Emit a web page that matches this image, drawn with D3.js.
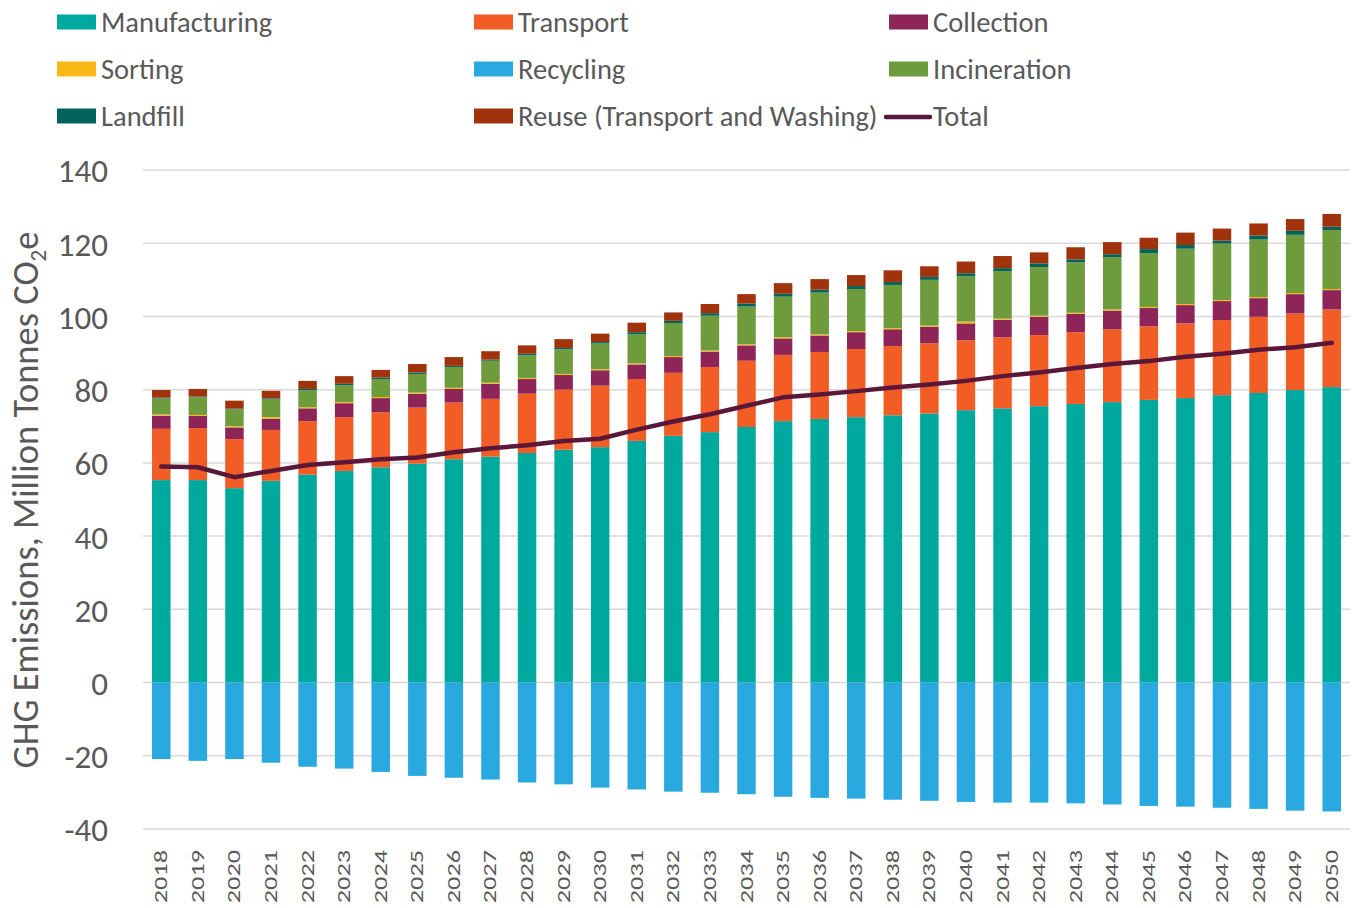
<!DOCTYPE html>
<html>
<head>
<meta charset="utf-8">
<script src="https://cdn.jsdelivr.net/npm/d3@7"></script>
<style>
  html, body { margin: 0; padding: 0; background: #ffffff; }
  svg { display: block; }
  text { font-family: Carlito, Calibri, Lato, "Open Sans", sans-serif; fill: #595959; }
</style>
</head>
<body>
<svg id="chart" width="1357" height="908"></svg>
<script>
// Annual greenhouse-gas emissions by life-cycle stage, million tonnes CO2e
const years = d3.range(2018, 2051).map(String);

const manufacturing = [55.3, 55.3, 53.1, 55.1, 56.8, 57.8, 58.8, 59.8, 61.0, 61.7, 62.7, 63.6, 64.3, 66.0, 67.4, 68.4, 69.8, 71.4, 72.0, 72.5, 73.0, 73.5, 74.4, 74.9, 75.5, 76.1, 76.6, 77.2, 77.7, 78.5, 79.1, 79.9, 80.7];
const transport     = [14.0, 14.2, 13.4, 13.9, 14.6, 14.7, 15.0, 15.3, 15.5, 15.8, 16.2, 16.4, 16.8, 16.9, 17.2, 17.8, 18.1, 18.1, 18.3, 18.6, 18.9, 19.2, 19.1, 19.4, 19.4, 19.6, 19.9, 20.1, 20.4, 20.5, 20.8, 20.9, 21.2];
const collection    = [3.6, 3.3, 3.2, 3.1, 3.5, 3.8, 3.9, 3.8, 3.7, 4.1, 4.0, 4.0, 4.2, 4.0, 4.3, 4.2, 4.2, 4.5, 4.5, 4.6, 4.6, 4.5, 4.6, 4.8, 5.0, 5.0, 5.1, 5.0, 5.0, 5.2, 5.1, 5.3, 5.3];
const sorting       = [0.3, 0.3, 0.3, 0.4, 0.3, 0.3, 0.3, 0.3, 0.3, 0.3, 0.3, 0.3, 0.3, 0.3, 0.3, 0.3, 0.3, 0.3, 0.3, 0.3, 0.3, 0.3, 0.5, 0.3, 0.3, 0.3, 0.3, 0.3, 0.3, 0.3, 0.3, 0.3, 0.3];
const incineration  = [4.4, 4.8, 4.6, 4.8, 4.6, 4.6, 4.9, 5.1, 5.7, 6.0, 6.2, 6.7, 7.0, 7.9, 9.0, 9.5, 10.3, 11.1, 11.4, 11.5, 11.8, 12.5, 12.4, 13.0, 13.3, 13.8, 14.3, 14.7, 15.1, 15.4, 15.7, 15.9, 16.1];
const landfill      = [0.2, 0.2, 0.2, 0.3, 0.4, 0.4, 0.4, 0.4, 0.3, 0.3, 0.4, 0.4, 0.4, 0.6, 0.6, 0.7, 0.8, 0.8, 0.8, 0.8, 0.8, 0.8, 0.8, 0.8, 1.0, 0.8, 0.8, 1.1, 1.0, 0.8, 1.1, 1.1, 0.9];
const reuse         = [2.1, 2.1, 2.2, 2.1, 2.2, 2.1, 2.1, 2.3, 2.4, 2.3, 2.3, 2.4, 2.3, 2.6, 2.3, 2.5, 2.6, 2.9, 2.9, 3.0, 3.2, 2.9, 3.2, 3.3, 3.0, 3.3, 3.3, 3.1, 3.4, 3.3, 3.3, 3.2, 3.5];
const recycling     = [-20.9, -21.4, -20.9, -21.9, -23.0, -23.5, -24.4, -25.5, -26.0, -26.5, -27.3, -27.8, -28.7, -29.2, -29.8, -30.1, -30.5, -31.2, -31.5, -31.7, -32.0, -32.3, -32.6, -32.8, -32.8, -33.0, -33.3, -33.7, -33.9, -34.2, -34.5, -35.0, -35.2];
const total         = [59.0, 58.8, 56.1, 57.8, 59.4, 60.2, 61.0, 61.5, 62.9, 64.0, 64.8, 66.0, 66.6, 69.1, 71.3, 73.3, 75.6, 77.9, 78.7, 79.6, 80.6, 81.4, 82.4, 83.7, 84.7, 85.9, 87.0, 87.8, 89.0, 89.8, 90.9, 91.6, 92.8];

const yTicks = [-40, -20, 0, 20, 40, 60, 80, 100, 120, 140];

// Stacking order above zero, bottom to top
const positiveSeries = [
  { name: "Manufacturing", values: manufacturing, color: "#00A99D" },
  { name: "Transport", values: transport, color: "#F15D25" },
  { name: "Collection", values: collection, color: "#8E2558" },
  { name: "Sorting", values: sorting, color: "#F9BA17" },
  { name: "Incineration", values: incineration, color: "#6E9C3D" },
  { name: "Landfill", values: landfill, color: "#00645A" },
  { name: "Reuse (Transport and Washing)", values: reuse, color: "#A0330C" }
];
const recyclingSeries = { name: "Recycling", values: recycling, color: "#2AA9E0" };
const totalColor = "#5A1739";

const svg = d3.select("#chart");

const plotLeft = 143, plotRight = 1350, plotTop = 170, plotBottom = 829;

const x = d3.scaleBand()
  .domain(years)
  .range([plotLeft, plotRight])
  .paddingInner(0.494)
  .paddingOuter(0.247);

const y = d3.scaleLinear()
  .domain([-40, 140])
  .range([plotBottom, plotTop]);

// Horizontal gridlines
svg.append("g")
  .selectAll("line")
  .data(yTicks)
  .join("line")
  .attr("x1", plotLeft)
  .attr("x2", plotRight)
  .attr("y1", d => y(d))
  .attr("y2", d => y(d))
  .attr("stroke", "#d9d9d9")
  .attr("stroke-width", 1.5);

// Y axis tick labels (plain hyphen for negatives)
const yAxis = d3.axisLeft(y).tickValues(yTicks).tickSize(0).tickPadding(0)
  .tickFormat(d => String(d));
const yAxisG = svg.append("g")
  .attr("transform", `translate(${plotLeft - 35},0)`)
  .call(yAxis);
yAxisG.select(".domain").remove();
yAxisG.selectAll("text")
  .attr("font-size", 33)
  .attr("fill", "#595959")
  .style("font-family", "Carlito, Calibri, Lato, sans-serif")
  .attr("dy", "0.36em");

// Stacked positive components
const rows = years.map((yr, i) => {
  const row = { year: yr };
  positiveSeries.forEach(s => { row[s.name] = s.values[i]; });
  return row;
});
const stack = d3.stack().keys(positiveSeries.map(s => s.name));
const stacked = stack(rows);

const barsG = svg.append("g");
stacked.forEach((layer, li) => {
  barsG.append("g")
    .attr("fill", positiveSeries[li].color)
    .selectAll("rect")
    .data(layer)
    .join("rect")
    .attr("x", d => x(d.data.year))
    .attr("width", x.bandwidth())
    .attr("y", d => y(d[1]))
    .attr("height", d => Math.max(0, y(d[0]) - y(d[1])));
});

// Recycling credit below zero
barsG.append("g")
  .attr("fill", recyclingSeries.color)
  .selectAll("rect")
  .data(recycling)
  .join("rect")
  .attr("x", (d, i) => x(years[i]))
  .attr("width", x.bandwidth())
  .attr("y", y(0))
  .attr("height", d => y(d) - y(0));

// Net total line
const line = d3.line()
  .x((d, i) => x(years[i]) + x.bandwidth() / 2)
  .y(d => y(d));
svg.append("path")
  .datum(total)
  .attr("d", line)
  .attr("fill", "none")
  .attr("stroke", totalColor)
  .attr("stroke-width", 4.5)
  .attr("stroke-linejoin", "round")
  .attr("stroke-linecap", "round");

// Year labels, rotated
svg.append("g")
  .selectAll("text")
  .data(years)
  .join("text")
  .attr("transform", d => `translate(${x(d) + x.bandwidth() / 2 + 6},850) rotate(-90) scale(1.5,1)`)
  .attr("text-anchor", "end")
  .attr("font-size", 17.5)
  .text(d => d);

// Y axis title with subscript
const title = svg.append("text")
  .attr("transform", "translate(38,500) rotate(-90)")
  .attr("text-anchor", "middle")
  .attr("font-size", 36.5);
title.append("tspan").text("GHG Emissions, Million Tonnes CO");
title.append("tspan").attr("font-size", 23).attr("dy", 8).text("2");
title.append("tspan").attr("dy", -8).text("e");

// Legend
const legendItems = [
  { name: "Manufacturing", color: "#00A99D", type: "box" },
  { name: "Transport", color: "#F15D25", type: "box" },
  { name: "Collection", color: "#8E2558", type: "box" },
  { name: "Sorting", color: "#F9BA17", type: "box" },
  { name: "Recycling", color: "#2AA9E0", type: "box" },
  { name: "Incineration", color: "#6E9C3D", type: "box" },
  { name: "Landfill", color: "#00645A", type: "box" },
  { name: "Reuse (Transport and Washing)", color: "#A0330C", type: "box" },
  { name: "Total", color: totalColor, type: "line" }
];
const legendCols = [57, 474, 889];
const legendRows = [22, 69, 116];

const legend = svg.append("g");
legendItems.forEach((item, i) => {
  const cx = legendCols[i % 3];
  const cy = legendRows[Math.floor(i / 3)];
  const g = legend.append("g").attr("transform", `translate(${cx},${cy})`);
  if (item.type === "box") {
    g.append("rect")
      .attr("x", 0).attr("y", -7.5)
      .attr("width", 39).attr("height", 15)
      .attr("fill", item.color);
  } else {
    g.append("line")
      .attr("x1", -3).attr("x2", 41)
      .attr("y1", 1).attr("y2", 1)
      .attr("stroke", item.color)
      .attr("stroke-width", 4.5)
      .attr("stroke-linecap", "round");
  }
  g.append("text")
    .attr("x", 44)
    .attr("y", 0)
    .attr("dy", "0.35em")
    .attr("font-size", 28.5)
    .text(item.name);
});
</script>
</body>
</html>
